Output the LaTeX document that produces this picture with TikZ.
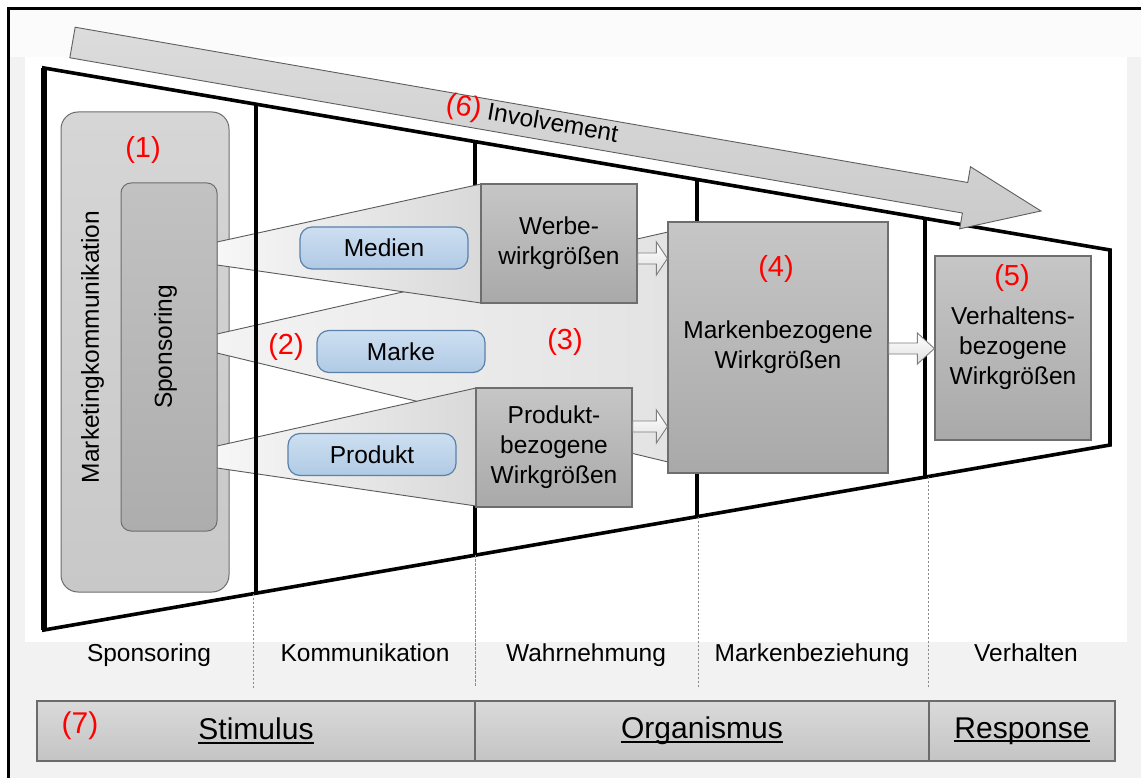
\documentclass[tikz,border=0pt]{standalone}
\usepackage{fontspec}
\setmainfont{Liberation Sans}
\usetikzlibrary{calc}

\definecolor{bggrey}{HTML}{F2F2F2}
\definecolor{topband}{HTML}{FBFBFB}
\definecolor{boxtop}{HTML}{C6C6C6}
\definecolor{boxbot}{HTML}{A9A9A9}
\definecolor{boxline}{HTML}{6E6E6E}
\definecolor{mktop}{HTML}{D6D6D6}
\definecolor{mkbot}{HTML}{C8C8C8}
\definecolor{sptop}{HTML}{C2C2C2}
\definecolor{spbot}{HTML}{ADADAD}
\definecolor{pilltop}{HTML}{CDDFF1}
\definecolor{pillbot}{HTML}{B0CAE4}
\definecolor{pillline}{HTML}{5A81AB}
\definecolor{conel}{HTML}{F7F7F7}
\definecolor{coner}{HTML}{D9D9D9}
\definecolor{midl}{HTML}{F3F3F3}
\definecolor{midr}{HTML}{E3E3E3}
\definecolor{coneline}{HTML}{5A5A5A}
\definecolor{arrline}{HTML}{7F7F7F}
\definecolor{arrbot}{HTML}{E0E0E0}
\definecolor{invtop}{HTML}{DCDCDC}
\definecolor{invbot}{HTML}{CBCBCB}
\definecolor{invline}{HTML}{5E5E5E}
\definecolor{bartop}{HTML}{DADADA}
\definecolor{barbot}{HTML}{C4C4C4}
\definecolor{barline}{HTML}{6B6B6B}
\definecolor{guidegrey}{HTML}{8A8A8A}

% block arrow pointing right: from, to, half shaft, half head, head length
\newcommand{\blockarrow}[5]{%
  \draw[smallarrow] let \p1=(#1), \p2=(#2) in
    (\x1,\y1+#3) -- (\x2-#5,\y1+#3) -- (\x2-#5,\y1+#4) -- (\x2,\y1)
    -- (\x2-#5,\y1-#4) -- (\x2-#5,\y1-#3) -- (\x1,\y1-#3) -- cycle;}

% heavier underline for the S-O-R headings
\newcommand{\thickul}[1]{\setbox0\hbox{#1}\rlap{\rule[-4pt]{\wd0}{2pt}}\box0}

\begin{document}
\begin{tikzpicture}[x=1pt,y=-1pt,
  txt/.style={font=\fontsize{24.5}{30}\selectfont, align=center, inner sep=0pt},
  num/.style={text=red, font=\fontsize{29}{30}\selectfont, inner sep=0pt},
  greybox/.style={draw=boxline, line width=1.2pt, top color=boxtop, bottom color=boxbot,
    inner sep=0pt, align=center, font=\fontsize{24.5}{30}\selectfont},
  pill/.style={draw=pillline, line width=1.2pt, top color=pilltop, bottom color=pillbot,
    rounded corners=12pt, minimum width=168pt, minimum height=42pt, inner sep=0pt,
    font=\fontsize{24.5}{30}\selectfont},
  cone/.style={draw=coneline, line width=0.9pt, left color=conel, right color=coner},
  midcone/.style={draw=coneline, line width=0.9pt, left color=midl, right color=midr},
  funnelline/.style={line width=3.6pt, line join=miter},
  divider/.style={line width=4pt},
  smallarrow/.style={draw=arrline, line width=0.9pt, top color=white, bottom color=arrbot},
  guide/.style={draw=guidegrey, dash pattern=on 2.5pt off 1.5pt, line width=0.8pt},
  barbox/.style={draw=barline, line width=1.3pt, top color=bartop, bottom color=barbot,
    minimum height=60pt, inner sep=0pt, font=\fontsize{30}{32}\selectfont},
  lbl/.style={font=\fontsize{24.5}{30}\selectfont, anchor=base, inner sep=0pt}
]
\useasboundingbox (0,0) rectangle (1141,778);

% backgrounds and frame
\fill[bggrey] (8,8) rectangle (1141,778);
\fill[topband] (9,9) rectangle (1141,57);
\fill[white] (25,57) rectangle (1127,642);
\draw[line width=2.7pt] (8.5,778) -- (8.5,8.5) -- (1141,8.5);

% funnel corners
\coordinate (TL) at (44,68);
\coordinate (TR) at (1110,250);
\coordinate (BL) at (44,630);
\coordinate (BR) at (1110,445);

% stage dividers
\draw[divider] (475,141.6) -- (475,555.2);
\draw[divider] (697,179.5) -- (697,516.7);
\draw[divider] (925,218.4) -- (925,477.1);

% funnel outline
\draw[funnelline] (TL) -- (TR) -- (BR) -- (BL) -- cycle;
\draw[line width=5.5pt] (TL) -- (BL);
\draw[line width=4.2pt] (TR) -- (BR);

% marketing communication and sponsoring blocks
\node[draw=boxline, line width=1pt, top color=mktop, bottom color=mkbot, rounded corners=17pt,
  minimum width=168pt, minimum height=480pt] (mk) at (145,352) {};
\node[num] (n1) at (143,150) {(1)};

% cones from sponsoring to the effect blocks
\draw[midcone] (217,334) -- (668,232) -- (668,462) -- (217,353) -- cycle;
\draw[cone] (217,242) -- (481,184) -- (481,303) -- (217,265) -- cycle;
\draw[cone] (217,446) -- (476,388) -- (476,506) -- (217,468) -- cycle;

% divider between sponsoring and communication stays in front
\draw[divider] (256,104.2) -- (256,593.2);

\node[draw=boxline, line width=1pt, top color=sptop, bottom color=spbot, rounded corners=10pt,
  minimum width=96pt, minimum height=348pt] (sp) at (169,357) {};
\node[txt, rotate=90] (mktext) at (92.5,347) {Marketingkommunikation};
\node[txt, rotate=90] (sptext) at (165.5,347) {Sponsoring};

% channels
\node[pill] (medien) at (384,248) {Medien};
\node[pill] (marke) at (401,351.5) {Marke};
\node[pill] (produkt) at (372,454.5) {Produkt};
\node[num] (n2) at (286,347) {(2)};
\node[num] (n3) at (565,342) {(3)};

% effect blocks
\node[greybox, minimum width=156pt, minimum height=119pt] (werbe) at (559,243.5) {Werbe-\\wirkgrößen};
\node[greybox, minimum width=156pt, minimum height=119pt] (prod) at (554,447.5) {Produkt-\\bezogene\\Wirkgrößen};
\node[greybox, minimum width=220pt, minimum height=251pt] (marken) at (778,347.5) {Markenbezogene\\Wirkgrößen};
\node[greybox, minimum width=156pt, minimum height=184pt] (verh) at (1013,348) {Verhaltens-\\bezogene\\Wirkgrößen};
\node[num] (n4) at (776,269) {(4)};
\node[num] (n5) at (1012,278) {(5)};

% arrows between effect blocks
\coordinate (ya) at (0,258.5);
\coordinate (yb) at (0,426.5);
\coordinate (yc) at (0,348.5);
\blockarrow{werbe.east |- ya}{marken.west |- ya}{5.5pt}{16.5pt}{11pt}
\blockarrow{prod.east |- yb}{marken.west |- yb}{5.5pt}{16.5pt}{11pt}
\blockarrow{marken.east |- yc}{verh.west |- yc}{5.5pt}{15.5pt}{17pt}

% stage labels and guides
\draw[guide] (253,593.7) -- (253,688);
\draw[guide] (475,555.2) -- (475,686);
\draw[guide] (698,516.5) -- (698,688);
\draw[guide] (928,476.6) -- (928,688);
\node[lbl] (l1) at (149,661) {Sponsoring};
\node[lbl] (l2) at (365,661) {Kommunikation};
\node[lbl] (l3) at (586,661) {Wahrnehmung};
\node[lbl] (l4) at (812,661) {Markenbeziehung};
\node[lbl] (l5) at (1026,661) {Verhalten};

% S-O-R bar
\node[barbox, minimum width=438pt] (stim) at (256,731) {\thickul{Stimulus}};
\node[barbox, minimum width=454pt] (org) at (702,731) {\thickul{Organismus}};
\node[barbox, minimum width=186pt] (resp) at (1022,731) {\thickul{Response}};
\node[num, font=\fontsize{30}{32}\selectfont] (n7) at (80,726) {(7)};

% involvement arrow
\begin{scope}[shift={(72.5,42.5)}, rotate=-9.87]
  \draw[draw=invline, line width=0.9pt, top color=invtop, bottom color=invbot]
    (0,-15.5) -- (906,-15.5) -- (906,-31.5) -- (983,0) -- (906,31.5) -- (906,15.5) -- (0,15.5) -- cycle;
  \node[txt, rotate=-9.87] (inv) at (466,-2.5)
    {{\color{red}\fontsize{29}{30}\selectfont(6)} Involvement};
\end{scope}
\end{tikzpicture}
\end{document}
